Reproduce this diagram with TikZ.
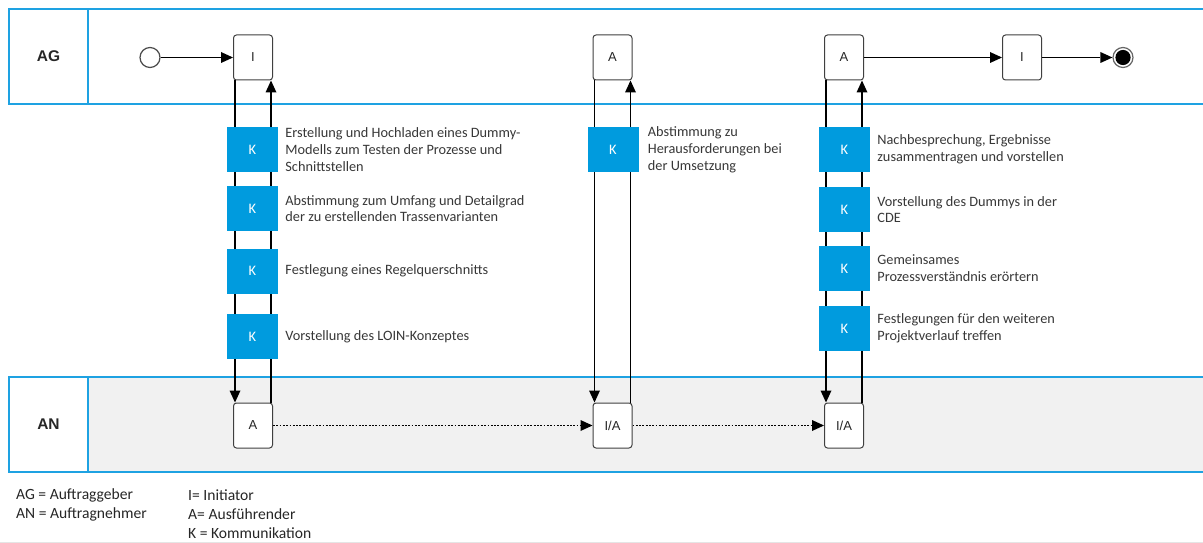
\documentclass[tikz,border=0pt]{standalone}
\usepackage{fontspec}
\setmainfont{Carlito}
\newfontfamily\headfont{Liberation Sans}
\usetikzlibrary{arrows.meta}
\definecolor{laneblue}{RGB}{30,162,226}
\definecolor{kblue}{RGB}{0,155,222}
\definecolor{lanegray}{RGB}{241,241,241}
\definecolor{txt}{RGB}{55,55,55}
\begin{document}
\begin{tikzpicture}[x=1pt,y=-1pt,
  laneline/.style={draw=laneblue,line width=2.4pt},
  lanelabel/.style={font=\headfont\bfseries\fontsize{15.5}{17}\selectfont,text=black!85},
  task/.style={draw=black!75,line width=1pt,rounded corners=3pt,fill=white,
    minimum width=39pt,minimum height=45pt,inner sep=0pt,
    font=\headfont\fontsize{13}{14}\selectfont,text=black!85},
  kbox/.style={fill=kblue,minimum width=51pt,minimum height=45pt,inner sep=0pt,
    text=white,font=\fontsize{14.5}{16}\selectfont},
  desc/.style={anchor=west,align=left,inner sep=0pt,text=txt,
    font=\fontsize{14.3}{16.8}\selectfont},
  legend/.style={anchor=west,inner sep=0pt,text=black!85,
    font=\fontsize{15.6}{18}\selectfont},
  tip/.tip={Triangle[length=12pt,width=11pt,fill=black,line width=0pt]},
  flow/.style={draw=black,line width=1.2pt,-tip},
  msg/.style={draw=black,line width=1.9pt,dash pattern=on 1.8pt off 1.5pt,-tip},
  startev/.style={circle,draw=black!70,line width=1.2pt,fill=white,minimum size=20pt,inner sep=0pt},
  endev/.style={circle,draw=black!60,line width=1.2pt,fill=white,minimum size=20pt,inner sep=0pt,
    path picture={\fill[black] (path picture bounding box.center) circle (7.6pt);}}
]
\useasboundingbox (0,0) rectangle (1203,543);

% swimlanes
\fill[lanegray] (88,377) rectangle (1203,472);
\draw[laneline] (1203,9) -- (9,9) -- (9,104) -- (1203,104);
\draw[laneline] (88,9) -- (88,104);
\draw[laneline] (1203,377) -- (9,377) -- (9,472) -- (1203,472);
\draw[laneline] (88,377) -- (88,472);
\draw[black!10,line width=0.8pt] (0,542) -- (1203,542);

\node[lanelabel] (ag) at (48.5,56.5) {AG};
\node[lanelabel] (an) at (48.5,424.5) {AN};

% events and tasks, AG lane
\node[startev] (start) at (150,57.5) {};
\node[task] (i1) at (253,57.5) {I};
\node[task] (a2) at (612.5,57.5) {A};
\node[task] (a3) at (844,57.5) {A};
\node[task] (i4) at (1022,57.5) {I};
\node[endev] (end) at (1123,57.5) {};

% tasks, AN lane
\node[task] (a1) at (253,425.5) {A};
\node[task] (ia2) at (612.5,425.5) {I/A};
\node[task] (ia3) at (844,425.5) {I/A};

% sequence flows
\draw[flow] (start) -- (i1);
\draw[flow] (a3) -- (i4);
\draw[flow] (i4) -- (end);
\foreach \u/\l in {i1/a1,a2/ia2,a3/ia3}{
  \draw[flow] ([xshift=-18pt]\u.south) -- ([xshift=-18pt]\l.north);
  \draw[flow] ([xshift=18pt]\l.north) -- ([xshift=18pt]\u.south);
}
\draw[msg] (a1) -- (ia2);
\draw[msg] (ia2) -- (ia3);

% communication steps
\node[kbox] (k11) at (252.5,149.5) {K};
\node[kbox] (k12) at (252.5,208.5) {K};
\node[kbox] (k13) at (252.5,271) {K};
\node[kbox] (k14) at (252.5,336.5) {K};
\node[kbox] (k21) at (613,149.5) {K};
\node[kbox] (k31) at (844.5,149.5) {K};
\node[kbox] (k32) at (844.5,209.5) {K};
\node[kbox] (k33) at (844.5,268.5) {K};
\node[kbox] (k34) at (844.5,328.5) {K};

\node[desc] (d11) at ([xshift=7pt]k11.east) {Erstellung und Hochladen eines Dummy-\\Modells zum Testen der Prozesse und\\Schnittstellen};
\node[desc] (d12) at ([xshift=7pt]k12.east) {Abstimmung zum Umfang und Detailgrad\\der zu erstellenden Trassenvarianten};
\node[desc] (d13) at ([xshift=7pt]k13.east) {Festlegung eines Regelquerschnitts};
\node[desc] (d14) at ([xshift=7pt]k14.east) {Vorstellung des LOIN-Konzeptes};
\node[desc] (d21) at ([xshift=9pt]k21.east) {Abstimmung zu\\Herausforderungen bei\\der Umsetzung};
\node[desc] (d31) at ([xshift=7pt]k31.east) {Nachbesprechung, Ergebnisse\\zusammentragen und vorstellen};
\node[desc] (d32) at ([xshift=7pt]k32.east) {Vorstellung des Dummys in der\\CDE};
\node[desc] (d33) at ([xshift=7pt]k33.east) {Gemeinsames\\Prozessverständnis erörtern};
\node[desc] (d34) at ([xshift=7pt]k34.east) {Festlegungen für den weiteren\\Projektverlauf treffen};

% legend
\node[legend] (l1) at (16,495) {AG = Auftraggeber};
\node[legend] (l2) at (16,514) {AN = Auftragnehmer};
\node[legend] (l3) at (188,495) {I= Initiator};
\node[legend] (l4) at (188,514) {A= Ausführender};
\node[legend] (l5) at (188,533) {K = Kommunikation};
\end{tikzpicture}
\end{document}
